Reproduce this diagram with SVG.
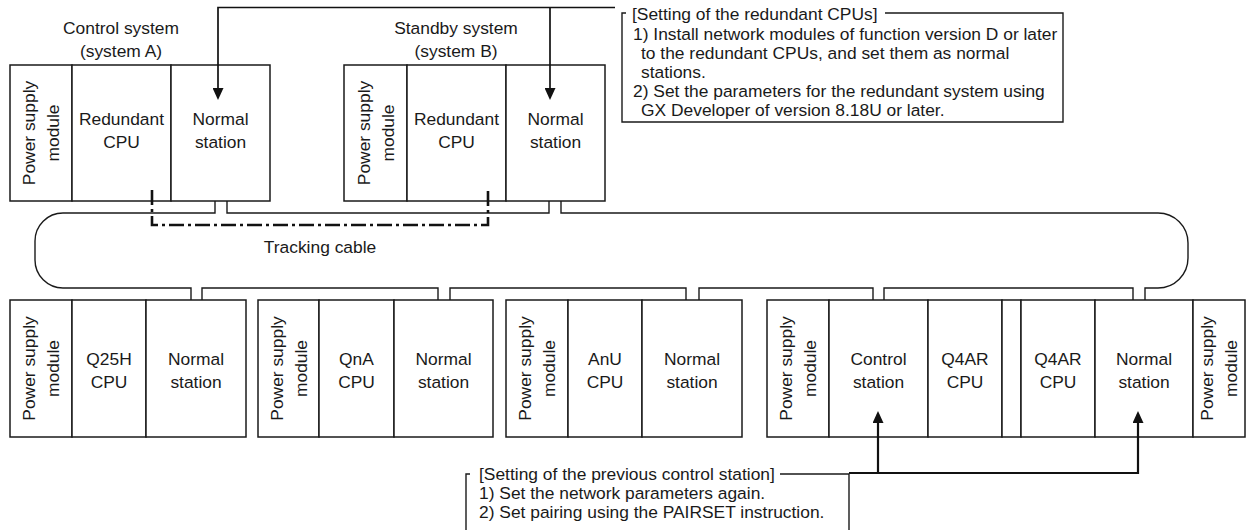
<svg xmlns="http://www.w3.org/2000/svg" width="1254" height="530" viewBox="0 0 1254 530">
<style>
.box{fill:#fff;stroke:#1a1a1a;stroke-width:1.5}
.t{font-family:"Liberation Sans",Arial,sans-serif;font-size:17.4px;fill:#1a1a1a}
.c{text-anchor:middle}
.wire{fill:none;stroke:#1a1a1a;stroke-width:1.4}
.arr{fill:none;stroke:#111;stroke-width:1.7}
.arr2{fill:none;stroke:#111;stroke-width:2.2}
.track{fill:none;stroke:#111;stroke-width:2.6;stroke-dasharray:15 4 3 4}
.note{fill:none;stroke:#1a1a1a;stroke-width:1.4}
</style>
<defs>
<marker id="ah" markerUnits="userSpaceOnUse" markerWidth="12" markerHeight="11" viewBox="0 0 12 11" refX="9" refY="5.5" orient="auto">
<path d="M0,0 L12,5.5 L0,11 z" fill="#111"/>
</marker>
</defs>

<g id="label-A">
<text class="t c" x="121" y="34">Control system</text>
<text class="t c" x="121" y="57">(system A)</text>
</g>
<g id="label-B">
<text class="t c" x="456" y="34">Standby system</text>
<text class="t c" x="456" y="57">(system B)</text>
</g>

<g id="systemA">
<rect class="box" x="10" y="65" width="62" height="136"/>
<rect class="box" x="72" y="65" width="99" height="136"/>
<rect class="box" x="171" y="65" width="99" height="136"/>
<text class="t c" transform="translate(35,133) rotate(-90)">Power supply</text>
<text class="t c" transform="translate(59,133) rotate(-90)">module</text>
<text class="t c" x="121.5" y="125">Redundant</text>
<text class="t c" x="121.5" y="148">CPU</text>
<text class="t c" x="220.5" y="125">Normal</text>
<text class="t c" x="220.5" y="148">station</text>
</g>

<g id="systemB">
<rect class="box" x="344" y="65" width="63" height="136"/>
<rect class="box" x="407" y="65" width="99" height="136"/>
<rect class="box" x="506" y="65" width="99" height="136"/>
<text class="t c" transform="translate(369.5,133) rotate(-90)">Power supply</text>
<text class="t c" transform="translate(393.5,133) rotate(-90)">module</text>
<text class="t c" x="456.5" y="125">Redundant</text>
<text class="t c" x="456.5" y="148">CPU</text>
<text class="t c" x="555.5" y="125">Normal</text>
<text class="t c" x="555.5" y="148">station</text>
</g>

<g id="note-redundant">
<path class="note" d="M626,13 H622 V122 H1063 V13 H885"/>
<text class="t" x="632" y="20">[Setting of the redundant CPUs]</text>
<text class="t" x="633" y="40">1) Install network modules of function version D or later</text>
<text class="t" x="641" y="59">to the redundant CPUs, and set them as normal</text>
<text class="t" x="641" y="78">stations.</text>
<text class="t" x="633" y="97">2) Set the parameters for the redundant system using</text>
<text class="t" x="641" y="116">GX Developer of version 8.18U or later.</text>
</g>

<g id="station1">
<rect class="box" x="10" y="300" width="62" height="137"/>
<rect class="box" x="72" y="300" width="74" height="137"/>
<rect class="box" x="146" y="300" width="100" height="137"/>
<text class="t c" transform="translate(35,368.5) rotate(-90)">Power supply</text>
<text class="t c" transform="translate(59,368.5) rotate(-90)">module</text>
<text class="t c" x="109" y="365">Q25H</text>
<text class="t c" x="109" y="388">CPU</text>
<text class="t c" x="196" y="365">Normal</text>
<text class="t c" x="196" y="388">station</text>
</g>

<g id="station2">
<rect class="box" x="258" y="300" width="61" height="137"/>
<rect class="box" x="319" y="300" width="75" height="137"/>
<rect class="box" x="394" y="300" width="99" height="137"/>
<text class="t c" transform="translate(282.5,368.5) rotate(-90)">Power supply</text>
<text class="t c" transform="translate(306.5,368.5) rotate(-90)">module</text>
<text class="t c" x="356.5" y="365">QnA</text>
<text class="t c" x="356.5" y="388">CPU</text>
<text class="t c" x="443.5" y="365">Normal</text>
<text class="t c" x="443.5" y="388">station</text>
</g>

<g id="station3">
<rect class="box" x="506" y="300" width="62" height="137"/>
<rect class="box" x="568" y="300" width="74" height="137"/>
<rect class="box" x="642" y="300" width="100" height="137"/>
<text class="t c" transform="translate(531,368.5) rotate(-90)">Power supply</text>
<text class="t c" transform="translate(555,368.5) rotate(-90)">module</text>
<text class="t c" x="605" y="365">AnU</text>
<text class="t c" x="605" y="388">CPU</text>
<text class="t c" x="692" y="365">Normal</text>
<text class="t c" x="692" y="388">station</text>
</g>

<g id="station4">
<rect class="box" x="767" y="300" width="62" height="137"/>
<rect class="box" x="829" y="300" width="99" height="137"/>
<rect class="box" x="928" y="300" width="74" height="137"/>
<rect class="box" x="1002" y="300" width="19" height="137"/>
<rect class="box" x="1021" y="300" width="74" height="137"/>
<rect class="box" x="1095" y="300" width="98" height="137"/>
<rect class="box" x="1193" y="300" width="52" height="137"/>
<text class="t c" transform="translate(792,368.5) rotate(-90)">Power supply</text>
<text class="t c" transform="translate(816,368.5) rotate(-90)">module</text>
<text class="t c" x="878.5" y="365">Control</text>
<text class="t c" x="878.5" y="388">station</text>
<text class="t c" x="965" y="365">Q4AR</text>
<text class="t c" x="965" y="388">CPU</text>
<text class="t c" x="1058" y="365">Q4AR</text>
<text class="t c" x="1058" y="388">CPU</text>
<text class="t c" x="1144" y="365">Normal</text>
<text class="t c" x="1144" y="388">station</text>
<text class="t c" transform="translate(1213,368.5) rotate(-90)">Power supply</text>
<text class="t c" transform="translate(1237,368.5) rotate(-90)">module</text>
</g>

<g id="note-control">
<path class="note" d="M470,474 H466 V530 M849,530 V474 H780"/>
<text class="t" x="479" y="480">[Setting of the previous control station]</text>
<text class="t" x="479" y="499">1) Set the network parameters again.</text>
<text class="t" x="479" y="518">2) Set pairing using the PAIRSET instruction.</text>
</g>

<g id="connectors">
<path class="wire" d="M191,300 V288 H63 A28,28 0 0 1 35,260 V241 A28,28 0 0 1 63,213 H215 V201"/>
<path class="wire" d="M227,201 V213 H549 V201"/>
<path class="wire" d="M561,201 V213 H1158 A30,30 0 0 1 1188,243 V258 A30,30 0 0 1 1158,288 H1145 V300"/>
<path class="wire" d="M202,300 V288 H438 V300"/>
<path class="wire" d="M450,300 V288 H686 V300"/>
<path class="wire" d="M699,300 V288 H873 V300"/>
<path class="wire" d="M884,300 V288 H1133 V300"/>
<path class="track" d="M152,190 V225 H488 V190"/>
<text class="t c" x="320" y="253">Tracking cable</text>
<path class="arr" d="M615,7.5 H218 V97" marker-end="url(#ah)"/>
<path class="arr" d="M550,7.5 V97" marker-end="url(#ah)"/>
<path class="arr2" d="M849,473 H1138 V414" marker-end="url(#ah)"/>
<path class="arr2" d="M878,473 V414" marker-end="url(#ah)"/>
</g>
</svg>
